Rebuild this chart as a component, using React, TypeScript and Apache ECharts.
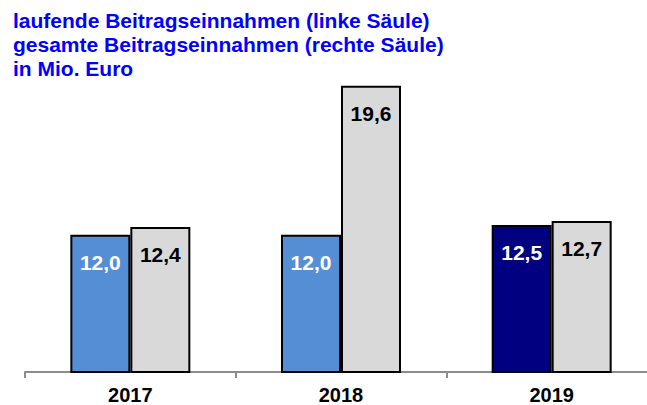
import React, { useEffect, useRef } from "react";
import * as echarts from "echarts";

const categories = ["2017", "2018", "2019"];
const laufende = [12.0, 12.0, 12.5];
const gesamte = [12.4, 19.6, 12.7];
const laufendeColors = ["#558ED5", "#558ED5", "#000080"];
const titleLines = [
  "laufende Beitragseinnahmen (linke Säule)",
  "gesamte Beitragseinnahmen (rechte Säule)",
  "in Mio. Euro",
];

const fmt = (v: number) => v.toFixed(1).replace(".", ",");
const FONT = "Liberation Sans, Arial, sans-serif";

export default function App() {
  const ref = useRef<HTMLDivElement>(null);
  useEffect(() => {
    if (!ref.current) return;
    const chart = echarts.init(ref.current, null, { renderer: "svg" });
    chart.setOption({
      animation: false,
      backgroundColor: "#ffffff",
      title: {
        text: titleLines.join("\n"),
        left: 13,
        top: 8,
        padding: 0,
        textStyle: {
          fontFamily: FONT,
          fontSize: 21,
          fontWeight: "bold",
          color: "#0000FF",
          lineHeight: 24,
        },
      },
      grid: { left: 25, right: 3, top: 78, bottom: 33, containLabel: false },
      xAxis: {
        type: "category",
        data: categories,
        axisLine: { show: true, lineStyle: { color: "#8c8c8c", width: 2 } },
        axisTick: { show: true, length: 6, lineStyle: { color: "#8c8c8c", width: 2 } },
        axisLabel: {
          margin: 13,
          fontFamily: FONT,
          fontSize: 20,
          fontWeight: "bold",
          color: "#000000",
        },
      },
      yAxis: {
        type: "value",
        min: 5,
        max: 20,
        show: false,
        splitLine: { show: false },
      },
      series: [
        {
          type: "bar",
          data: laufende.map((v, i) => ({
            value: v,
            itemStyle: { color: laufendeColors[i] },
          })),
          barWidth: 60,
          barGap: "0%",
          itemStyle: { borderColor: "#000000", borderWidth: 2 },
          label: {
            show: true,
            position: "insideTop",
            distance: 17,
            formatter: (p: any) => fmt(p.value),
            fontFamily: FONT,
            fontSize: 21,
            fontWeight: "bold",
            color: "#ffffff",
          },
        },
        {
          type: "bar",
          data: gesamte,
          barWidth: 60,
          barGap: "0%",
          itemStyle: { color: "#D9D9D9", borderColor: "#000000", borderWidth: 2 },
          label: {
            show: true,
            position: "insideTop",
            distance: 17,
            formatter: (p: any) => fmt(p.value),
            fontFamily: FONT,
            fontSize: 21,
            fontWeight: "bold",
            color: "#000000",
          },
        },
      ],
    });
    return () => chart.dispose();
  }, []);
  return (
    <div
      style={{
        position: "absolute",
        left: 0,
        top: 0,
        width: 647,
        height: 405,
        overflow: "hidden",
        background: "#ffffff",
      }}
    >
      <div ref={ref} style={{ width: 660, height: 405 }} />
    </div>
  );
}
